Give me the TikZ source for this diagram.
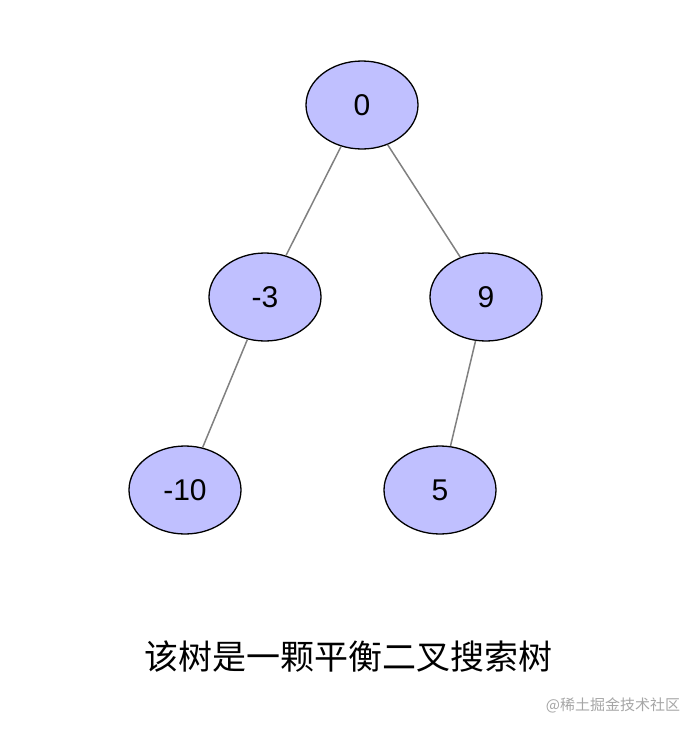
\documentclass[tikz,border=0pt]{standalone}
\usepackage{fontspec}
\usetikzlibrary{shapes.geometric}
\setmainfont{Liberation Sans}
\newfontfamily\cjk{Noto Sans CJK SC}
\definecolor{nfill}{RGB}{192,192,255}
\definecolor{edge}{RGB}{128,128,128}
\begin{document}
\begin{tikzpicture}[x=1pt,y=-1pt,
  tn/.style={ellipse,draw=black,line width=1.3pt,fill=nfill,minimum width=112pt,minimum height=88pt,inner sep=0pt,font=\fontsize{30}{34}\selectfont},
  ed/.style={draw=edge,line width=1.5pt}]
\useasboundingbox (0,0) rectangle (696,734);
\node[tn] (a) at (362,105) {0};
\node[tn] (b) at (265,297) {-3};
\node[tn] (c) at (486,297) {9};
\node[tn] (d) at (185,490) {-10};
\node[tn] (e) at (440,490) {5};
\draw[ed] (a) -- (b);
\draw[ed] (a) -- (c);
\draw[ed] (b) -- (d);
\draw[ed] (c) -- (e);
\node[font=\cjk\fontsize{34}{38}\selectfont] (cap) at (348,657) {该树是一颗平衡二叉搜索树};
\node[font=\cjk\fontsize{15}{17}\selectfont,text=gray!70] (wm) at (613,705) {@稀土掘金技术社区};
\end{tikzpicture}
\end{document}
